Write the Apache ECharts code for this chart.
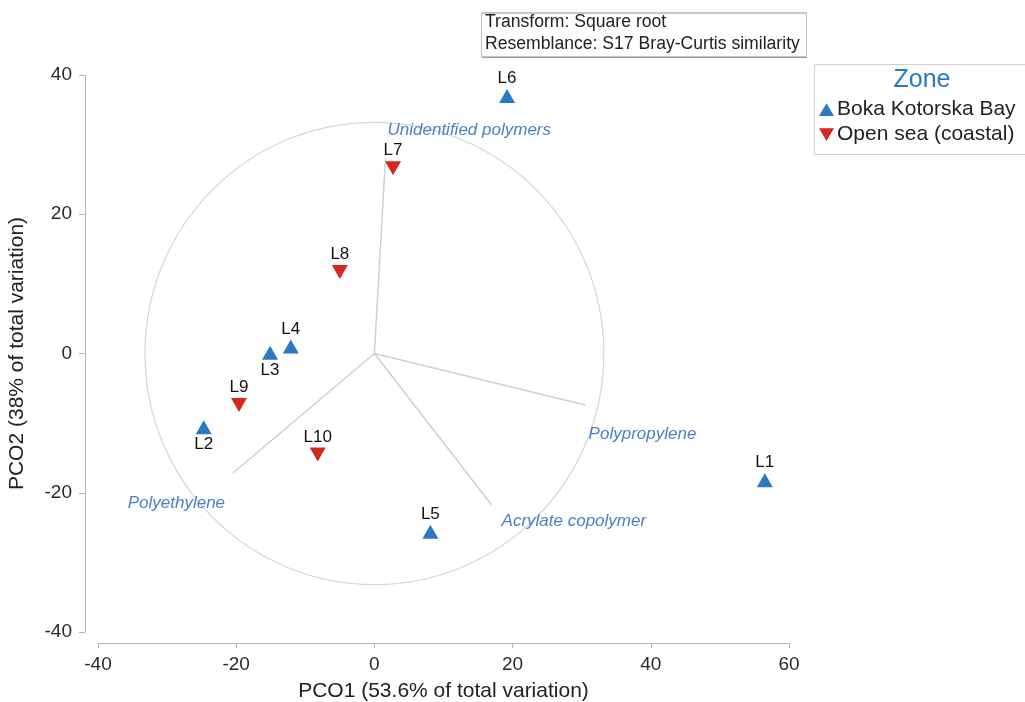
<!DOCTYPE html>
<html>
<head>
<meta charset="utf-8">
<script src="https://cdn.jsdelivr.net/npm/echarts@6/dist/echarts.min.js"></script>
<style>html,body{margin:0;padding:0;background:#fff;}#c{width:1025px;height:702px;}</style>
</head>
<body>
<div id="c"></div>
<script>
// ---- data ----
const xTicks = [-40, -20, 0, 20, 40, 60];
const yTicks = [-40, -20, 0, 20, 40];
const bokaNames = ['L1', 'L2', 'L3', 'L4', 'L5', 'L6'];
const bokaX = [56.5, -24.7, -15.1, -12.1, 8.1, 19.2];
const bokaY = [-18.2, -10.6, 0.1, 1.0, -25.6, 37.0];
const bokaLabelPos = ['top', 'bottom', 'bottom', 'top', 'top', 'top'];
const openNames = ['L7', 'L8', 'L9', 'L10'];
const openX = [2.7, -5.0, -19.6, -8.2];
const openY = [26.6, 11.7, -7.4, -14.5];
const openLabelPos = ['top', 'top', 'top', 'top'];
const vectorNames = ['Unidentified polymers', 'Polypropylene', 'Acrylate copolymer', 'Polyethylene'];
const vectorX = [1.6, 30.5, 17.0, -20.5];
const vectorY = [28.0, -7.4, -21.8, -17.2];
const vectorLabelX = [1.9, 31.0, 18.4, -35.7];
const vectorLabelY = [32.0, -11.6, -24.1, -21.5];
const circleRadius = 33.2;
const seriesNames = ['Boka Kotorska Bay', 'Open sea (coastal)'];

const FONT = '"Liberation Sans", Arial, sans-serif';
const BLUE = '#2a79c2';
const RED = '#d5271d';
const DOWN = 'path://M0,0L20,0L10,17Z';
const UP = 'path://M10,0L20,17L0,17Z';

const bokaData = bokaNames.map((n, i) => ({ value: [bokaX[i], bokaY[i]], name: n, label: { position: bokaLabelPos[i] } }));
const openData = openNames.map((n, i) => ({ value: [openX[i], openY[i]], name: n, label: { position: openLabelPos[i] } }));
const vectorData = vectorNames.map((n, i) => [vectorX[i], vectorY[i], vectorLabelX[i], vectorLabelY[i], i]);

const chart = echarts.init(document.getElementById('c'), null, { renderer: 'canvas' });
const ptLabel = { show: true, formatter: p => p.name, color: '#111', fontSize: 17, fontFamily: FONT, distance: 2 };

chart.setOption({
  animation: false,
  backgroundColor: '#fff',
  grid: { left: 98, right: 236, top: 75, bottom: 70, outerBoundsMode: 'none', containLabel: false },
  xAxis: {
    type: 'value', min: xTicks[0], max: xTicks[xTicks.length - 1], interval: 20, offset: 11,
    name: 'PCO1 (53.6% of total variation)', nameLocation: 'middle', nameGap: 38,
    nameTextStyle: { fontSize: 21, color: '#222', fontFamily: FONT },
    axisLine: { onZero: false, lineStyle: { color: '#b5b5b5', width: 1 } },
    axisTick: { show: true, length: 5, lineStyle: { color: '#b5b5b5' } },
    axisLabel: { fontSize: 19, color: '#2a2a2a', fontFamily: FONT, margin: 12 },
    splitLine: { show: false }
  },
  yAxis: {
    type: 'value', min: yTicks[0], max: yTicks[yTicks.length - 1], interval: 20, offset: 13,
    name: 'PCO2 (38% of total variation)', nameLocation: 'middle', nameGap: 57, nameRotate: 90,
    nameTextStyle: { fontSize: 21, color: '#222', fontFamily: FONT },
    axisLine: { onZero: false, lineStyle: { color: '#b5b5b5', width: 1 } },
    axisTick: { show: true, length: 6, lineStyle: { color: '#b5b5b5' } },
    axisLabel: { fontSize: 19, color: '#2a2a2a', fontFamily: FONT, margin: 13 },
    splitLine: { show: false }
  },
  legend: {
    left: 814, top: 93, orient: 'vertical', itemGap: 2, itemWidth: 15, itemHeight: 13,
    textStyle: { fontSize: 21, lineHeight: 23, color: '#222', fontFamily: FONT, padding: [0, 0, 0, -2] },
    data: [
      { name: seriesNames[0], icon: UP },
      { name: seriesNames[1], icon: DOWN }
    ]
  },
  graphic: [
    { type: 'rect', left: 481, top: 12, shape: { width: 325, height: 44 }, style: { fill: '#fff', stroke: '#c4c4c4', lineWidth: 1, shadowColor: 'rgba(0,0,0,0.25)', shadowOffsetY: 1, shadowBlur: 1 } },
    { type: 'text', x: 485, y: 22, style: { text: 'Transform: Square root', fontSize: 17.6, fill: '#222', fontFamily: FONT, textVerticalAlign: 'middle' } },
    { type: 'text', x: 485, y: 44, style: { text: 'Resemblance: S17 Bray-Curtis similarity', fontSize: 17.6, fill: '#222', fontFamily: FONT, textVerticalAlign: 'middle' } },
    { type: 'rect', left: 812, top: 62, shape: { width: 230, height: 90 }, style: { fill: 'none', stroke: '#d0d0d0', lineWidth: 1 } },
    { type: 'text', x: 922, y: 80, style: { text: 'Zone', fontSize: 25, fill: BLUE, fontFamily: FONT, textAlign: 'center', textVerticalAlign: 'middle' } }
  ],
  series: [
    {
      type: 'custom', name: 'circle', silent: true, z: 1,
      data: [[0, 0, circleRadius]],
      renderItem: (params, api) => {
        const c = api.coord([api.value(0), api.value(1)]);
        const r = api.size([api.value(2), api.value(2)]);
        return { type: 'ellipse', shape: { cx: c[0], cy: c[1], rx: r[0], ry: r[1] }, style: { fill: 'none', stroke: '#d6d6d6', lineWidth: 1.2 } };
      }
    },
    {
      type: 'custom', name: 'vectors', silent: true, z: 2,
      data: vectorData,
      renderItem: (params, api) => {
        const o = api.coord([0, 0]);
        const e = api.coord([api.value(0), api.value(1)]);
        const l = api.coord([api.value(2), api.value(3)]);
        return {
          type: 'group',
          children: [
            { type: 'line', shape: { x1: o[0], y1: o[1], x2: e[0], y2: e[1] }, style: { stroke: '#cbd0d8', lineWidth: 1.5 } },
            { type: 'text', x: l[0], y: l[1], style: { text: vectorNames[api.value(4)], fontSize: 17, fontStyle: 'italic', fill: '#4a80c4', fontFamily: FONT, textVerticalAlign: 'middle', textAlign: 'left' } }
          ]
        };
      }
    },
    {
      type: 'scatter', name: seriesNames[0], symbol: UP, symbolSize: [16, 14], z: 5,
      itemStyle: { color: BLUE, opacity: 1 }, label: ptLabel, data: bokaData
    },
    {
      type: 'scatter', name: seriesNames[1], symbol: DOWN, symbolSize: [16, 14], z: 5,
      itemStyle: { color: RED, opacity: 1 }, label: ptLabel, data: openData
    }
  ]
});
</script>
</body>
</html>
